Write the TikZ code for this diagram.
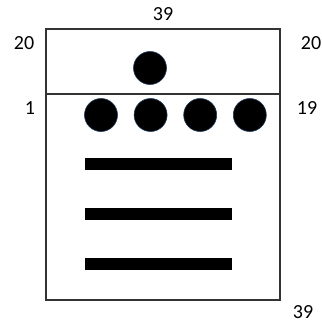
\documentclass[tikz,border=0pt]{standalone}
\usepackage{fontspec}
\setmainfont{Carlito}
\usepackage{xcolor}
\usepackage{tikz}
\usetikzlibrary{positioning}
\definecolor{FrameGray}{HTML}{333333}
\definecolor{DotEdge}{HTML}{1F3A5A}

\tikzset{
  numlabel/.style={font=\fontsize{20}{24}\selectfont, inner sep=0pt},
  dot/.style={circle, fill=black, draw=DotEdge, line width=0.6pt, minimum size=33pt, inner sep=0pt},
  bar/.style={rectangle, fill=black, minimum width=147pt, minimum height=11.5pt, inner sep=0pt}
}

\begin{document}
\begin{tikzpicture}[x=1pt, y=-1pt]
  \useasboundingbox (0,0) rectangle (322,325);
  % frame and divider
  \draw[FrameGray, line width=1.2pt] (46,29) rectangle (280,300);
  \coordinate (divL) at (46,94);
  \coordinate (divR) at (280,94);
  \draw[FrameGray, line width=1.2pt] (divL) -- (divR);
  % dots
  \node[dot] (top) at (150,68) {};
  \node[dot] (d1) at (101,115) {};
  \node[dot, right=16pt of d1] (d2) {};
  \node[dot, right=16pt of d2] (d3) {};
  \node[dot, right=16pt of d3] (d4) {};
  % bars
  \node[bar] (b1) at (158.5,164) {};
  \node[bar, below=38pt of b1] (b2) {};
  \node[bar, below=38pt of b2] (b3) {};
  % numbers
  \node[numlabel] (nTop) at (163,14) {39};
  \node[numlabel] (nL1) at (24,43) {20};
  \node[numlabel] (nR1) at (311,43) {20};
  \node[numlabel] (nL2) at (30,108) {1};
  \node[numlabel] (nR2) at (307,108) {19};
  \node[numlabel] (nBot) at (303,312) {39};
\end{tikzpicture}
\end{document}
